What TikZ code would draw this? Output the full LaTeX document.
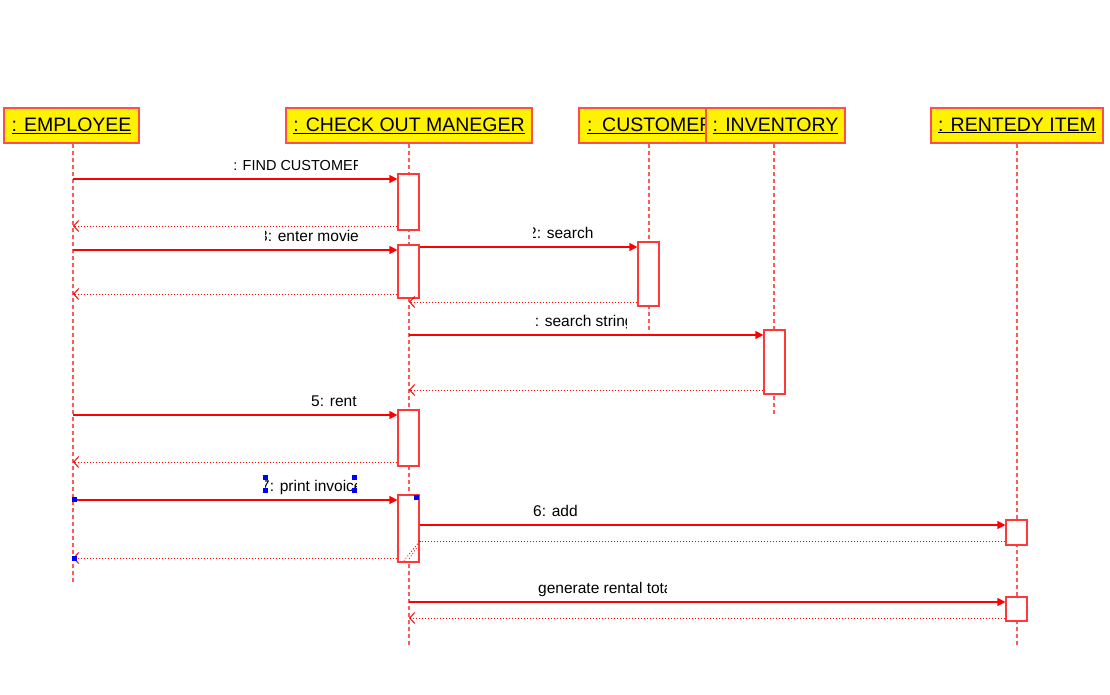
\documentclass[tikz,border=0pt]{standalone}
\usepackage{fontspec}
\setmainfont{Liberation Sans}
\usetikzlibrary{arrows.meta}
\definecolor{msgred}{HTML}{FF0000}
\definecolor{boxred}{HTML}{FF4D4D}
\definecolor{lifered}{HTML}{FF5A5A}
\definecolor{actred}{HTML}{FF3838}
\definecolor{hdlblue}{HTML}{0000FF}
\newcommand{\msglbl}[6]{%
  \begin{scope}
    \clip (#2,#5-16) rectangle (#3,#5+6);
    \node[lbl,anchor=base west] (#1) at (#4,#5) {#6};
  \end{scope}}
\newcommand{\hdl}[2]{\fill[hdlblue] (#1,#2) rectangle ++(5,5);}
\begin{document}
\begin{tikzpicture}[x=1pt,y=-1pt,
  obj/.style={draw=boxred,fill=yellow,line width=1.2pt,minimum height=35pt,inner sep=0pt,
    font=\fontsize{19.5}{22}\selectfont},
  act/.style={draw=actred,fill=white,line width=1.2pt,minimum width=21pt,inner sep=0pt},
  life/.style={draw=lifered,line width=1.3pt,dash pattern=on 4pt off 3pt},
  call/.style={draw=msgred,line width=1.2pt,-{Triangle[length=8pt,width=8pt]}},
  ret/.style={draw=msgred,line width=1pt,dash pattern=on 1pt off 2pt,-{Straight Barb[length=5pt,width=11pt]}},
  retnt/.style={draw=msgred,line width=1pt,dash pattern=on 1pt off 2pt},
  lbl/.style={inner sep=0pt,font=\fontsize{15.5}{18}\selectfont}]
\useasboundingbox (0,0) rectangle (1110,694);
\fill[white] (0,0) rectangle (1110,694);

% lifeline positions
\coordinate (Lemp) at (73,583);
\coordinate (Lchk) at (409,646);
\coordinate (Lcus) at (649,330);
\coordinate (Linv) at (774,415);
\coordinate (Lren) at (1017,646);

% object headers
\node[obj,minimum width=135pt] (emp) at (71.5,125.5) {\underline{: EMPLOYEE}};
\node[obj,minimum width=246pt] (chk) at (409,125.5) {\underline{: CHECK OUT MANEGER}};
\node[obj,minimum width=139pt,text width=123pt,align=left] (cus) at (648.5,125.5) {\underline{: CUSTOMER}};
\node[obj,minimum width=139pt] (inv) at (775.5,125.5) {\underline{: INVENTORY}};
\node[obj,minimum width=172pt] (ren) at (1017,125.5) {\underline{: RENTEDY ITEM}};

% lifelines
\draw[life] (Lemp |- emp.south) -- (Lemp);
\draw[life] (Lchk |- chk.south) -- (Lchk);
\draw[life] (Lcus |- cus.south) -- (Lcus);
\draw[life] (Linv |- inv.south) -- (Linv);
\draw[life] (Lren |- ren.south) -- (Lren);

% activation boxes
\node[act,minimum height=56pt] (a1) at (408.5,202) {};
\node[act,minimum height=53pt] (a2) at (408.5,271.5) {};
\node[act,minimum height=56pt] (a3) at (408.5,438) {};
\node[act,minimum height=67pt] (a4) at (408.5,528.5) {};
\node[act,minimum height=64pt] (c1) at (648.5,274) {};
\node[act,minimum height=64pt] (i1) at (774.5,362) {};
\node[act,minimum height=25pt] (r1) at (1016.5,532.5) {};
\node[act,minimum height=24pt] (r2) at (1016.5,609) {};

% message points
\coordinate (s1) at (73,179);
\coordinate (s2) at (73,226);
\coordinate (s3) at (73,250);
\coordinate (s4) at (409,247);
\coordinate (s5) at (409,302);
\coordinate (s6) at (73,294);
\coordinate (s7) at (409,335);
\coordinate (s8) at (409,390);
\coordinate (s9) at (73,415);
\coordinate (s10) at (73,462);
\coordinate (s11) at (73,500);
\coordinate (s12) at (409,525);
\coordinate (s13) at (409,541);
\coordinate (s14) at (73,558);
\coordinate (s15) at (409,602);
\coordinate (s16) at (409,618);

% messages
\draw[call] (s1) -- (s1 -| a1.west);
\draw[ret] (s2 -| a1.west) -- (s2);
\draw[call] (s3) -- (s3 -| a2.west);
\draw[call] (s4 -| a2.east) -- (s4 -| c1.west);
\draw[ret] (s5 -| c1.west) -- (s5);
\draw[ret] (s6 -| a2.west) -- (s6);
\draw[call] (s7) -- (s7 -| i1.west);
\draw[ret] (s8 -| i1.west) -- (s8);
\draw[call] (s9) -- (s9 -| a3.west);
\draw[ret] (s10 -| a3.west) -- (s10);
\draw[call] (s11) -- (s11 -| a4.west);
\draw[call] (s12 -| a4.east) -- (s12 -| r1.west);
\draw[retnt] (s13 -| r1.west) -- (s13 -| a4.east);
\draw[ret] (s14 -| a4.west) -- (s14);
\draw[call] (s15) -- (s15 -| r2.west);
\draw[ret] (s16 -| r2.west) -- (s16);

% dotted artefact inside last activation box
\draw[retnt,line width=0.8pt] (419.5,541.5) -- (404,560.5);
\draw[retnt,line width=0.8pt] (416.5,548) -- (409,559);

% labels
\msglbl{l1}{233}{357}{225}{170.5}{\fontsize{14.5}{17}\selectfont 1: FIND CUSTOMER}
\msglbl{l2}{265}{357}{259}{241.5}{3: enter movie}
\msglbl{l3}{533}{700}{528}{238.5}{2: search}
\msglbl{l4}{534}{626}{526}{326.5}{4: search string}
\msglbl{l5}{300}{357}{311}{406.5}{5: rent}
\msglbl{l6}{265}{356}{261}{491.5}{7: print invoice}
\msglbl{l7}{520}{700}{533}{516.5}{6: add}
\msglbl{l8}{530}{666}{538}{593.5}{generate rental total}

% selection handles
\hdl{263}{475}\hdl{263}{488}\hdl{352}{475}\hdl{352}{488}
\hdl{72}{497}\hdl{72}{556}\hdl{414}{495}
\end{tikzpicture}
\end{document}
